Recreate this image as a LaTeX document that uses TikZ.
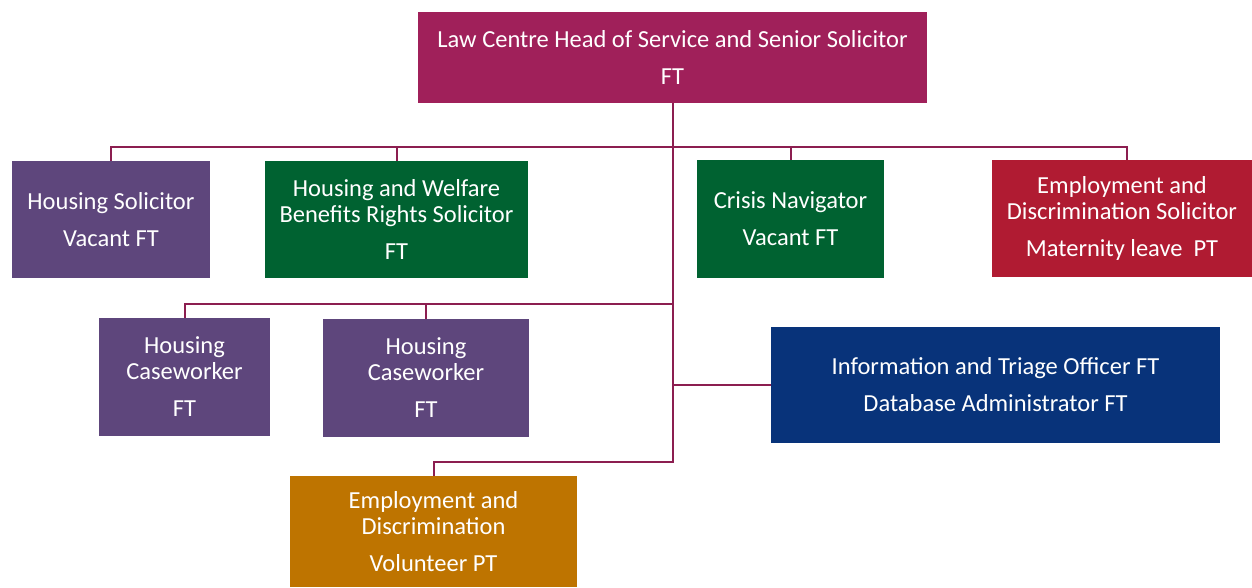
\documentclass[tikz,border=0pt]{standalone}
\usepackage{fontspec}
\setmainfont{Carlito}
\usetikzlibrary{positioning}

\definecolor{headred}{HTML}{A0205A}
\definecolor{housepurple}{HTML}{5E467C}
\definecolor{welfgreen}{HTML}{006231}
\definecolor{emplred}{HTML}{B01B32}
\definecolor{infoblue}{HTML}{08337A}
\definecolor{volorange}{HTML}{BE7400}
\definecolor{linkred}{HTML}{8C1E50}

\begin{document}
\begin{tikzpicture}[
	x=1pt, y=-1pt,
	post/.style = {fill=#1, text=white, align=center, inner sep=0pt,
		font=\fontsize{24.5}{26}\selectfont},
	link/.style = {draw=linkred, line width=2pt},
     ]
	\useasboundingbox (0,0) rectangle (1252,587);
%
		\node[post=headred, minimum width=509pt, minimum height=91pt] (head) at (672.5,57.5)
			{Law Centre Head of Service and Senior Solicitor\\[11pt] FT};
%
		\node[post=housepurple, minimum width=198pt, minimum height=117pt] (hsol) at (111,219.5)
			{Housing Solicitor\\[11pt] Vacant FT};
		\node[post=welfgreen, minimum width=263pt, minimum height=117pt] (hwb) at (396.5,219.5)
			{Housing and Welfare\\ Benefits Rights Solicitor\\[11pt] FT};
		\node[post=welfgreen, minimum width=187pt, minimum height=118pt] (crisis) at (790.5,219)
			{Crisis Navigator\\[11pt] Vacant FT};
		\node[post=emplred, minimum width=260pt, minimum height=117pt] (eds) at (1122,218.5)
			{Employment and\\ Discrimination Solicitor\\[11pt] Maternity leave\ \ PT};
%
		\node[post=housepurple, minimum width=171pt, minimum height=118pt] (hcw1) at (184.5,377)
			{Housing\\ Caseworker\\[11pt] FT};
		\node[post=housepurple, minimum width=206pt, minimum height=118pt] (hcw2) at (426,378)
			{Housing\\ Caseworker\\[11pt] FT};
		\node[post=infoblue, minimum width=449pt, minimum height=116pt] (info) at (995.5,385)
			{Information and Triage Officer FT\\[11pt] Database Administrator FT};
%
		\node[post=volorange, minimum width=287pt, minimum height=111pt] (vol) at (433.5,531.5)
			{Employment and\\ Discrimination\\[11pt] Volunteer PT};
%
		\coordinate (bus1) at (0,147);
		\coordinate (bus2) at (672.5,304);
		\coordinate (bus3) at (0,462);
%
		\draw[link] (head.south) -- (head.south |- bus3) -| (vol.north);
		\draw[link] (hsol.north) |- ([xshift=5pt]eds.north |- bus1) -- ([xshift=5pt]eds.north);
		\draw[link] (hwb.north) -- (hwb.north |- bus1);
		\draw[link] (crisis.north) -- (crisis.north |- bus1);
%
		\draw[link] (hcw1.north) |- (bus2);
		\draw[link] (hcw2.north) -- (hcw2.north |- bus2);
		\draw[link] (info.west) -- (info.west -| head.south);
\end{tikzpicture}
\end{document}
